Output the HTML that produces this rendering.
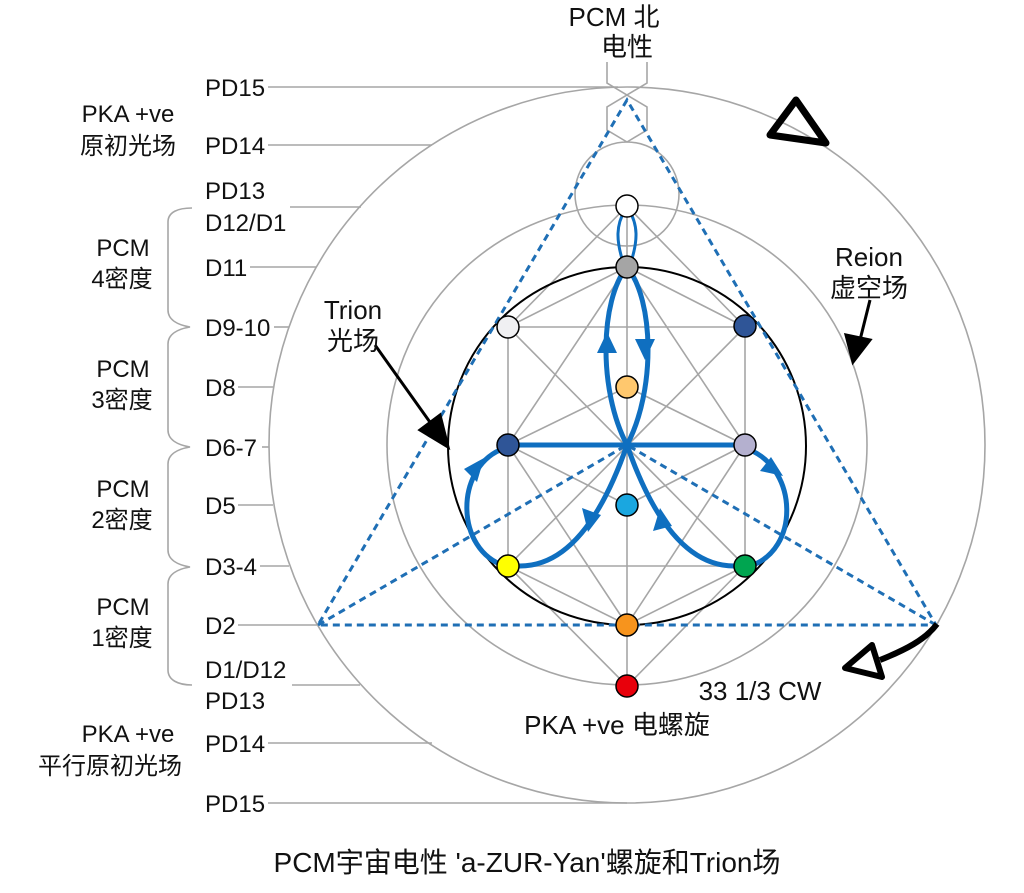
<!DOCTYPE html>
<html><head><meta charset="utf-8"><style>
html,body{margin:0;padding:0;background:#fff;}
svg text{font-family:"Liberation Sans","Noto Sans CJK SC",sans-serif;fill:#111;}
</style></head><body>
<svg width="1024" height="888" viewBox="0 0 1024 888" xmlns="http://www.w3.org/2000/svg">
<g fill="none" stroke="#a6a6a6" stroke-width="1.6">
<circle cx="627" cy="445" r="358"/>
<circle cx="627" cy="445" r="240"/>
<circle cx="627" cy="194" r="52"/>
<polyline points="607,62 607,83 647,107 647,130 627,142 607,130 607,107 647,83 647,62"/>
<line x1="268" y1="87" x2="618" y2="87"/>
<line x1="268" y1="145" x2="432" y2="145"/>
<line x1="290" y1="207" x2="361" y2="207"/>
<line x1="250" y1="267" x2="316" y2="267"/>
<line x1="274" y1="327" x2="289" y2="327"/>
<line x1="238" y1="387" x2="273" y2="387"/>
<line x1="262" y1="447" x2="269" y2="447"/>
<line x1="238" y1="505" x2="273" y2="505"/>
<line x1="260" y1="566" x2="289" y2="566"/>
<line x1="238" y1="625" x2="318" y2="625"/>
<line x1="292" y1="685" x2="360" y2="685"/>
<line x1="268" y1="743" x2="432" y2="743"/>
<line x1="268" y1="803" x2="627" y2="803"/>
<path d="M192,208 C178,208 168,212 168,222 L168,310 C168,320 178,325 190,327 C178,329 168,334 168,344 L168,430 C168,440 178,445 190,447 C178,449 168,454 168,464 L168,550 C168,560 178,565 190,567 C178,569 168,574 168,584 L168,670 C168,680 178,685 192,685"/>
<line x1="627" y1="206" x2="627" y2="686"/>
<line x1="508" y1="327" x2="508" y2="566"/>
<line x1="745" y1="327" x2="745" y2="566"/>
<line x1="508" y1="327" x2="745" y2="327"/>
<line x1="508" y1="566" x2="745" y2="566"/>
<line x1="508" y1="327" x2="745" y2="566"/>
<line x1="745" y1="327" x2="508" y2="566"/>
<polyline points="508,327 627,206 745,327"/>
<polyline points="508,566 627,686 745,566"/>
<polyline points="508,327 627,267 745,327"/>
<polyline points="508,566 627,625 745,566"/>
<polyline points="508,445 627,387 745,445"/>
<polyline points="508,445 627,505 745,445"/>
<line x1="627" y1="267" x2="745" y2="445"/>
<line x1="627" y1="267" x2="508" y2="445"/>
<line x1="627" y1="625" x2="745" y2="445"/>
<line x1="627" y1="625" x2="508" y2="445"/>
</g>
<circle cx="627" cy="446" r="179" fill="none" stroke="#000" stroke-width="2"/>
<g fill="none" stroke="#1f6fb5" stroke-width="3" stroke-dasharray="7,5">
<polygon points="627,100 318,625 936,625"/>
<line x1="318" y1="625" x2="627" y2="445"/>
<line x1="936" y1="625" x2="627" y2="445"/>
</g>
<g fill="none" stroke="#0f6fc0" stroke-width="5" stroke-linecap="round">
<path d="M627,445 C598,390 600,300 627,267 C654,300 656,390 627,445"/>
<path d="M623,262 C616,240 616,225 625,210 M631,262 C638,240 638,225 629,210" stroke-width="3"/>
<path d="M627,445 Q585,566 520,566"/>
<path d="M627,445 Q669,566 734,566"/>
<path d="M505,566 C455,550 455,470 500,450"/>
<path d="M750,450 C798,470 800,550 750,566"/>
<line x1="508" y1="445" x2="745" y2="445"/>
</g>
<g fill="#0f6fc0">
<polygon points="607,332 597,353 617,353"/>
<polygon points="645,360 635,339 655,339"/>
<polygon points="588,532 582,508 601,515"/>
<polygon points="660,508 653,531 672,526"/>
<polygon points="484,458 464,469 477,482"/>
<polygon points="783,476 760,471 771,457"/>
</g>
<g stroke="#000" stroke-width="1.5">
<circle cx="627" cy="206" r="11" fill="#fff"/>
<circle cx="627" cy="267" r="11" fill="#a5a5a5"/>
<circle cx="508" cy="327" r="11" fill="#f0f0f2"/>
<circle cx="745" cy="326" r="11" fill="#2f5597"/>
<circle cx="627" cy="387" r="11" fill="#ffc86e"/>
<circle cx="508" cy="445" r="11" fill="#2f5597"/>
<circle cx="745" cy="445" r="11" fill="#b4b0cf"/>
<circle cx="627" cy="505" r="11" fill="#1aa7e0"/>
<circle cx="508" cy="566" r="11" fill="#ffff00"/>
<circle cx="745" cy="566" r="11" fill="#00a550"/>
<circle cx="627" cy="625" r="11" fill="#f7941d"/>
<circle cx="627" cy="686" r="11" fill="#e8000b"/>
</g>
<g stroke="#000" stroke-width="3" fill="#000">
<line x1="375" y1="345" x2="432" y2="425"/>
<polygon points="448,447 420,430 440,415"/>
<line x1="870" y1="300" x2="860" y2="340"/>
<polygon points="853,362 846,335 870,340"/>
</g>
<polygon points="796,100 770,135 826,143" fill="none" stroke="#000" stroke-width="7" stroke-linejoin="round"/>
<path d="M937,624 C925,640 905,650 880,660" fill="none" stroke="#000" stroke-width="6"/>
<polygon points="845,668 872,645 882,677" fill="none" stroke="#000" stroke-width="6" stroke-linejoin="round"/>
<g font-size="24">
<text x="205" y="96">PD15</text>
<text x="205" y="154">PD14</text>
<text x="205" y="199">PD13</text>
<text x="205" y="231">D12/D1</text>
<text x="205" y="276">D11</text>
<text x="205" y="336">D9-10</text>
<text x="205" y="396">D8</text>
<text x="205" y="456">D6-7</text>
<text x="205" y="514">D5</text>
<text x="205" y="575">D3-4</text>
<text x="205" y="634">D2</text>
<text x="205" y="678">D1/D12</text>
<text x="205" y="709">PD13</text>
<text x="205" y="752">PD14</text>
<text x="205" y="812">PD15</text>
<g text-anchor="middle">
<text x="128" y="122">PKA +ve</text>
<text x="128" y="154">原初光场</text>
<text x="123" y="256">PCM</text>
<text x="122" y="287">4密度</text>
<text x="123" y="377">PCM</text>
<text x="122" y="408">3密度</text>
<text x="123" y="497">PCM</text>
<text x="122" y="528">2密度</text>
<text x="123" y="615">PCM</text>
<text x="122" y="646">1密度</text>
<text x="128" y="742">PKA +ve</text>
<text x="110" y="774">平行原初光场</text>
</g>
</g>
<g font-size="26" text-anchor="middle">
<text x="614" y="26">PCM 北</text>
<text x="627" y="56">电性</text>
<text x="353" y="319">Trion</text>
<text x="353" y="350">光场</text>
<text x="869" y="266">Reion</text>
<text x="869" y="297">虚空场</text>
<text x="760" y="700">33 1/3 CW</text>
<text x="617" y="734">PKA +ve 电螺旋</text>
<text x="527" y="872" font-size="28">PCM宇宙电性 'a-ZUR-Yan'螺旋和Trion场</text>
</g>
</svg>
</body></html>
